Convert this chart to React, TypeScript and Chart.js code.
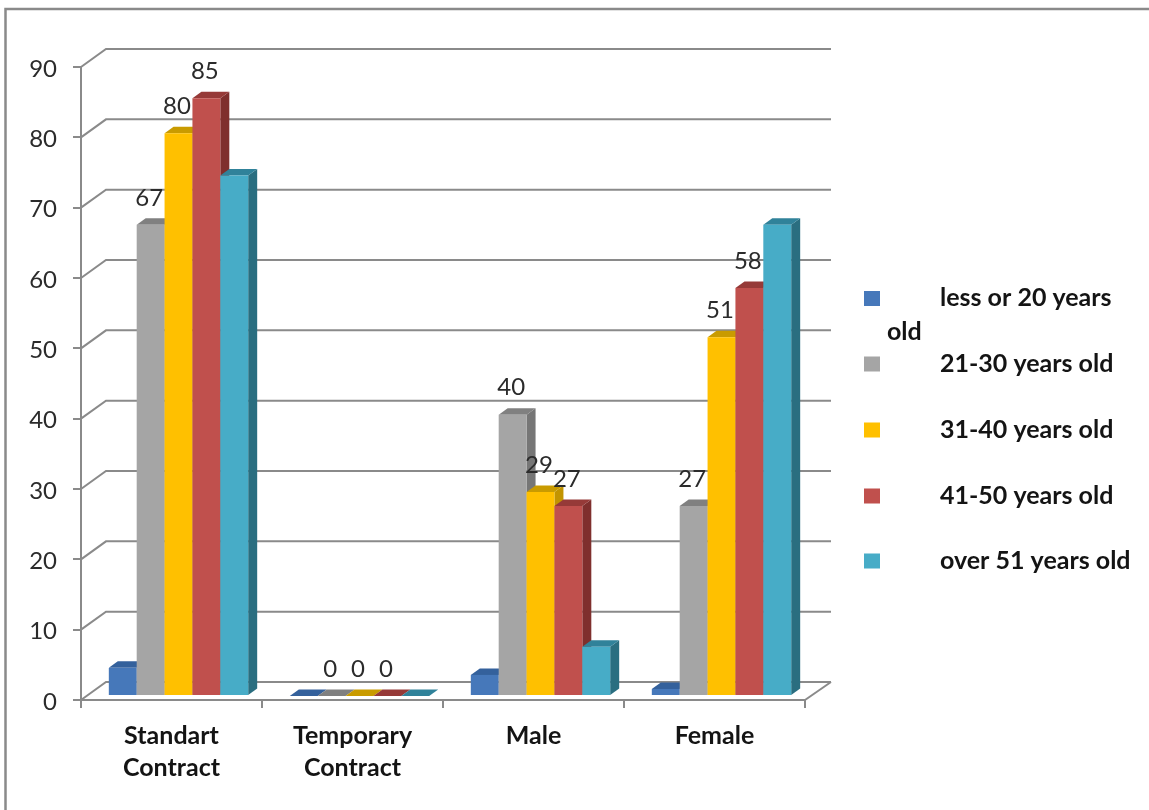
import React, { useEffect, useRef } from "react";
import { Chart, registerables } from "chart.js";

Chart.register(...registerables);

const categories = [["Standart", "Contract"], ["Temporary", "Contract"], "Male", "Female"];
const under20 = [4, 0, 3, 1];
const age21to30 = [67, 0, 40, 27];
const age31to40 = [80, 0, 29, 51];
const age41to50 = [85, 0, 27, 58];
const over51 = [74, 0, 7, 67];

const seriesNames = ["less or 20 years old", "21-30 years old", "31-40 years old", "41-50 years old", "over 51 years old"];
const frontColors = ["#4678BA", "#A5A5A5", "#FFC000", "#C0504D", "#47ACC7"];
const sideColors = ["#2F5688", "#767676", "#C29400", "#7F2F2D", "#2A6E80"];
const topColors = ["#34619C", "#808080", "#C99B00", "#963A38", "#30829A"];
const labelledSeries = [1, 2, 3];

const FONT = "Lato, Carlito, sans-serif";
const GRID = "#8A8A8A";
const TEXT = "#2B2B2B";
const BOLD_TEXT = "#141414";

// depth of the wall, of the bars, and where the bars sit on the floor
const WALL_X = 25;
const WALL_Y = 18;
const BAR_X = 9;
const BAR_Y = 6.5;
const SHIFT_X = 7;
const SHIFT_Y = -4;

const poly = (ctx: CanvasRenderingContext2D, pts: number[][], fill: string) => {
  ctx.beginPath();
  pts.forEach((p, i) => (i ? ctx.lineTo(p[0], p[1]) : ctx.moveTo(p[0], p[1])));
  ctx.closePath();
  ctx.fillStyle = fill;
  ctx.fill();
};

const threeD = {
  id: "threeD",
  beforeDraw(chart: any) {
    const ctx = chart.ctx as CanvasRenderingContext2D;
    ctx.save();
    ctx.fillStyle = "#fff";
    ctx.fillRect(0, 0, chart.width, chart.height);
    ctx.strokeStyle = "#8A8A8A";
    ctx.lineWidth = 2.5;
    ctx.beginPath();
    ctx.moveTo(5.5, chart.height);
    ctx.lineTo(5.5, 9);
    ctx.lineTo(chart.width, 9);
    ctx.stroke();
    ctx.restore();
  },
  beforeDatasetsDraw(chart: any) {
    const ctx = chart.ctx as CanvasRenderingContext2D;
    const { left, right, bottom } = chart.chartArea;
    const yScale = chart.scales.y;
    ctx.save();
    // back wall grid lines
    ctx.strokeStyle = GRID;
    ctx.lineWidth = 2;
    yScale.ticks.forEach((t: any) => {
      const y = yScale.getPixelForValue(t.value);
      ctx.beginPath();
      ctx.moveTo(left, y);
      ctx.lineTo(left + WALL_X, y - WALL_Y);
      ctx.lineTo(right + WALL_X + 1, y - WALL_Y);
      ctx.stroke();
    });
    // floor edge on the right
    ctx.beginPath();
    ctx.moveTo(right + WALL_X + 1, bottom - WALL_Y);
    ctx.lineTo(right, bottom);
    ctx.stroke();

    // bars, first series first so each covers the side of the previous one
    chart.data.datasets.forEach((_: any, di: number) => {
      const meta = chart.getDatasetMeta(di);
      meta.data.forEach((bar: any) => {
        ctx.save();
        ctx.translate(SHIFT_X, SHIFT_Y);
        const l = bar.x - bar.width / 2;
        const r = bar.x + bar.width / 2;
        const t = bar.y;
        const b = bar.base;
        poly(ctx, [[r, t], [r + BAR_X, t - BAR_Y], [r + BAR_X, b - BAR_Y], [r, b]], sideColors[di]);
        poly(ctx, [[l, t], [l + BAR_X, t - BAR_Y], [r + BAR_X, t - BAR_Y], [r, t]], topColors[di]);
        bar.draw(ctx);
        ctx.restore();
      });
    });

    // value labels
    ctx.font = `24px ${FONT}`;
    ctx.fillStyle = TEXT;
    ctx.textAlign = "center";
    ctx.textBaseline = "middle";
    labelledSeries.forEach((di) => {
      const meta = chart.getDatasetMeta(di);
      meta.data.forEach((bar: any, i: number) => {
        ctx.fillText(String(chart.data.datasets[di].data[i]), bar.x + SHIFT_X - 1.5, bar.y + SHIFT_Y - 27);
      });
    });

    // legend
    const rows = [298.5, 364, 430, 496, 561];
    ctx.textAlign = "left";
    ctx.font = `bold 25px ${FONT}`;
    chart.data.datasets.forEach((ds: any, di: number) => {
      ctx.fillStyle = frontColors[di];
      ctx.fillRect(864, rows[di] - 7.5, 16, 15);
      ctx.fillStyle = BOLD_TEXT;
      if (di === 0) {
        ctx.fillText("less or 20 years", 940, rows[di] - 0.5);
        ctx.fillText("old", 887, 331.5);
      } else {
        ctx.fillText(ds.label, 940, rows[di] - 0.5);
      }
    });
    ctx.restore();
    return false;
  },
};

export default function App() {
  const ref = useRef<HTMLCanvasElement>(null);
  useEffect(() => {
    const series = [under20, age21to30, age31to40, age41to50, over51];
    const chart = new Chart(ref.current as HTMLCanvasElement, {
      type: "bar",
      data: {
        labels: categories as any,
        datasets: series.map((data, i) => ({
          label: seriesNames[i],
          data,
          backgroundColor: frontColors[i],
          borderWidth: 0,
          barPercentage: 1,
          categoryPercentage: 0.77,
        })),
      },
      options: {
        responsive: false,
        animation: false,
        devicePixelRatio: 1,
        layout: { padding: { left: 0, top: 67, right: 344, bottom: 0 } },
        plugins: { legend: { display: false }, tooltip: { enabled: false }, title: { display: false } },
        scales: {
          x: {
            afterFit: (s: any) => { s.height = 110; },
            grid: { drawOnChartArea: false, drawTicks: true, tickLength: 8, color: GRID, lineWidth: 2 },
            border: { color: GRID, width: 2 },
            ticks: { color: BOLD_TEXT, font: { family: FONT, size: 25, weight: "bold", lineHeight: 1.28 }, padding: 12, maxRotation: 0, autoSkip: false },
          },
          y: {
            min: 0,
            max: 90,
            afterFit: (s: any) => { s.width = 81; },
            grid: { drawOnChartArea: false, drawTicks: true, tickLength: 8, color: GRID, lineWidth: 2 },
            border: { color: GRID, width: 2 },
            ticks: { stepSize: 10, color: TEXT, font: { family: FONT, size: 24 }, padding: 16, labelOffset: 2 },
          },
        },
      },
      plugins: [threeD as any],
    });
    return () => chart.destroy();
  }, []);
  return (
    <div style={{ position: "fixed", left: 0, top: 0, width: 1149, height: 810, background: "#fff" }}>
      <canvas ref={ref} width={1149} height={810} style={{ display: "block", filter: "blur(0.5px)" }} />
    </div>
  );
}
